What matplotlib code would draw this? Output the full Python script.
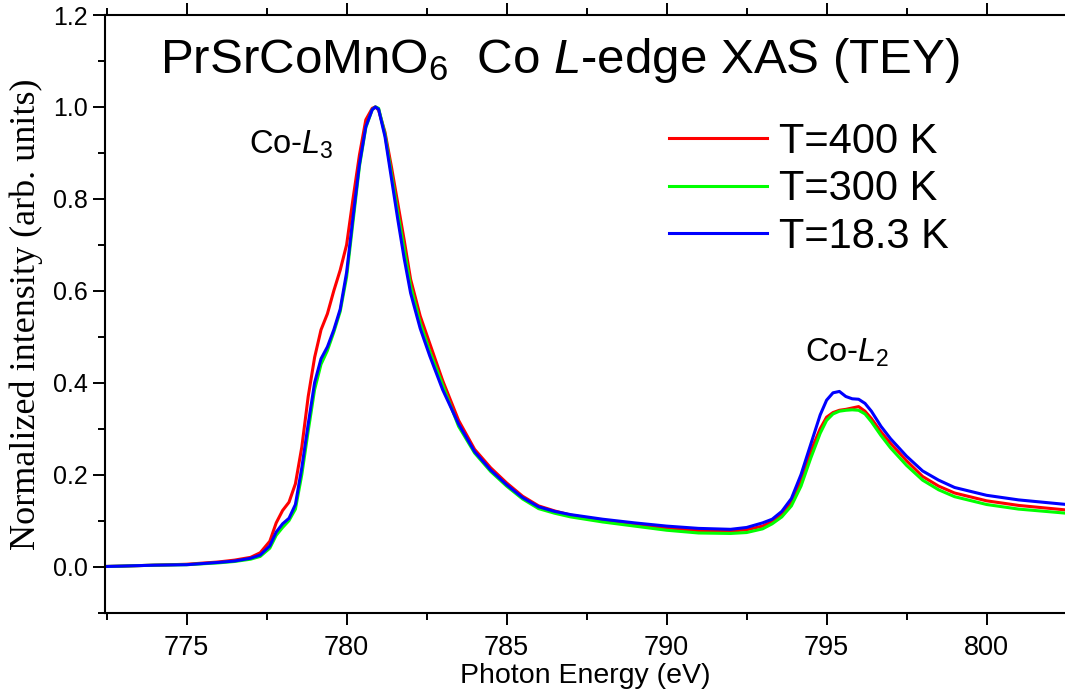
import matplotlib
matplotlib.use("Agg")
import matplotlib.pyplot as plt
from matplotlib.ticker import MultipleLocator

plt.rcParams['font.family'] = ['Liberation Sans', 'DejaVu Sans']
plt.rcParams['mathtext.fontset'] = 'custom'
plt.rcParams['mathtext.rm'] = 'Liberation Sans'
plt.rcParams['mathtext.it'] = 'Liberation Sans:italic'

# photon energy grid (eV)
energy = [772.4, 773, 774, 775, 776, 776.5, 777, 777.3, 777.6, 777.8,
          778.0, 778.2, 778.4, 778.6, 778.8, 779.0, 779.2, 779.4, 779.6, 779.8,
          780.0, 780.2, 780.4, 780.6, 780.8, 780.9, 781.0, 781.2, 781.4, 781.6,
          781.8, 782.0, 782.3, 782.6, 783.0, 783.5, 784.0, 784.5, 785.0, 785.5,
          786.0, 786.5, 787, 788, 789, 790, 791, 792, 792.5, 793,
          793.3, 793.6, 793.9, 794.2, 794.5, 794.8, 795.0, 795.2, 795.4, 795.6,
          795.8, 796.0, 796.2, 796.4, 796.7, 797.0, 797.5, 798, 798.5, 799,
          800, 801, 802.5]

t400 = [0.000, 0.001, 0.003, 0.005, 0.010, 0.014, 0.020, 0.030, 0.055, 0.095,
        0.122, 0.140, 0.180, 0.260, 0.370, 0.455, 0.515, 0.550, 0.600, 0.645,
        0.700, 0.800, 0.895, 0.972, 0.997, 1.000, 0.993, 0.945, 0.870, 0.790,
        0.710, 0.625, 0.545, 0.485, 0.405, 0.318, 0.255, 0.215, 0.182, 0.153,
        0.132, 0.121, 0.112, 0.100, 0.092, 0.084, 0.078, 0.077, 0.080, 0.088,
        0.098, 0.115, 0.140, 0.185, 0.250, 0.300, 0.325, 0.335, 0.340, 0.342,
        0.345, 0.348, 0.338, 0.322, 0.293, 0.268, 0.230, 0.196, 0.175, 0.160,
        0.143, 0.133, 0.123]

t300 = [0.000, 0.001, 0.003, 0.004, 0.008, 0.011, 0.016, 0.022, 0.040, 0.068,
        0.085, 0.100, 0.125, 0.200, 0.295, 0.385, 0.440, 0.470, 0.510, 0.555,
        0.630, 0.750, 0.870, 0.955, 0.994, 1.000, 0.997, 0.940, 0.855, 0.770,
        0.690, 0.610, 0.530, 0.468, 0.395, 0.305, 0.247, 0.207, 0.175, 0.147,
        0.126, 0.116, 0.108, 0.097, 0.088, 0.079, 0.073, 0.072, 0.074, 0.082,
        0.093, 0.108, 0.132, 0.175, 0.235, 0.290, 0.318, 0.332, 0.338, 0.340,
        0.341, 0.340, 0.332, 0.315, 0.285, 0.258, 0.220, 0.188, 0.167, 0.152,
        0.135, 0.125, 0.116]

t18 = [0.000, 0.001, 0.003, 0.004, 0.009, 0.012, 0.018, 0.025, 0.045, 0.075,
       0.093, 0.105, 0.135, 0.215, 0.310, 0.400, 0.452, 0.478, 0.515, 0.560,
       0.640, 0.760, 0.875, 0.957, 0.994, 1.000, 0.995, 0.935, 0.845, 0.755,
       0.670, 0.595, 0.518, 0.458, 0.385, 0.310, 0.250, 0.210, 0.178, 0.150,
       0.130, 0.120, 0.113, 0.103, 0.095, 0.088, 0.083, 0.081, 0.085, 0.095,
       0.103, 0.120, 0.148, 0.200, 0.265, 0.330, 0.362, 0.378, 0.381, 0.370,
       0.365, 0.364, 0.355, 0.338, 0.305, 0.278, 0.240, 0.208, 0.188, 0.172,
       0.155, 0.145, 0.135]

series = [("T=400 K", t400, "#ff0000"),
          ("T=300 K", t300, "#00ff00"),
          ("T=18.3 K", t18, "#0000ff")]

fig = plt.figure(figsize=(10.65, 6.95), dpi=100)
ax = fig.add_axes([0.0986, 0.1187, 0.9014, 0.8597])

for label, vals, col in series:
    ax.plot(energy, vals, color=col, lw=2.2, label=label,
            solid_joinstyle='round')

ax.set_xlim(772.45, 802.45)
ax.set_ylim(-0.1, 1.2)
ax.xaxis.set_major_locator(MultipleLocator(5))
ax.xaxis.set_minor_locator(MultipleLocator(2.5))
ax.yaxis.set_major_locator(MultipleLocator(0.2))
ax.yaxis.set_minor_locator(MultipleLocator(0.1))
ax.yaxis.set_major_formatter(plt.FuncFormatter(lambda v, p: "%.1f" % v))

ax.spines['right'].set_visible(False)
for s in ['left', 'bottom', 'top']:
    ax.spines[s].set_linewidth(1.5)
ax.tick_params(which='both', direction='out', top=True, right=False,
               labeltop=False, width=1.4)
ax.tick_params(which='major', length=8.5)
ax.tick_params(which='minor', length=5)
ax.tick_params(axis='x', labelsize=19.5, pad=7.5)
ax.tick_params(axis='y', labelsize=18, pad=4)

ax.set_xlabel("Photon Energy (eV)", fontsize=20.5, labelpad=1.5)
ax.set_ylabel("Normalized intensity (arb. units)", fontsize=26,
              family=['Liberation Serif', 'DejaVu Serif'], labelpad=7)

ax.text(0.057, 0.903, r"PrSrCoMnO$_6$  Co $L$-edge XAS (TEY)", transform=ax.transAxes,
        ha='left', va='baseline', fontsize=35.5)
ax.text(776.95, 0.899, r"Co-$L_3$", fontsize=23.5)
ax.text(794.33, 0.445, r"Co-$L_2$", fontsize=23.5)

ax.legend(loc='upper left', bbox_to_anchor=(0.588, 0.821), frameon=False,
          fontsize=30, handlelength=2.35, handletextpad=0.29, labelspacing=0.18,
          borderpad=0, borderaxespad=0)

fig.savefig("out.png", dpi=100)
